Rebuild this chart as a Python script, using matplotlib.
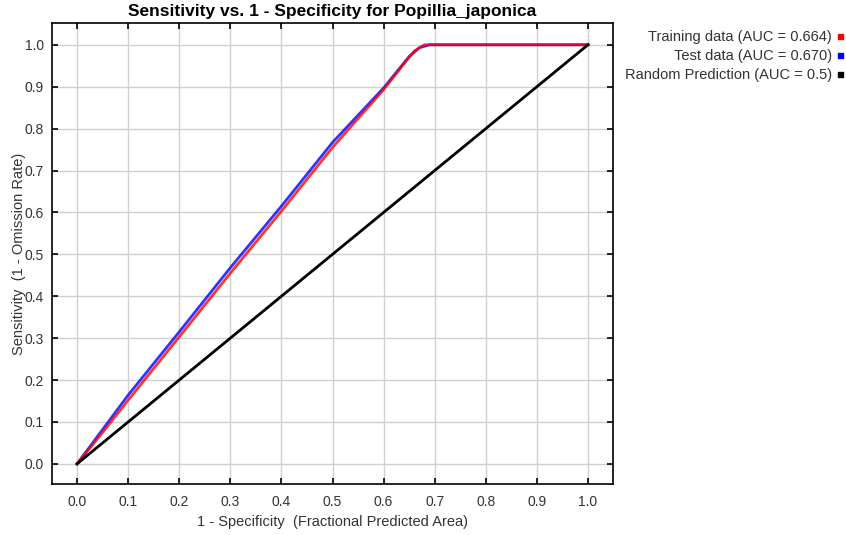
import matplotlib.pyplot as plt
from matplotlib.patches import Rectangle

plt.rcParams['font.family'] = ['Liberation Sans', 'DejaVu Sans']

# ROC points
train_x = [0.0, 0.05, 0.1, 0.2, 0.3, 0.4, 0.5, 0.6, 0.64, 0.66, 0.68, 1.0]
train_y = [0.0, 0.075, 0.152, 0.303, 0.455, 0.603, 0.755, 0.893, 0.955, 0.985, 1.0, 1.0]
test_x = [0.0, 0.05, 0.1, 0.2, 0.3, 0.4, 0.5, 0.6, 0.65, 0.67, 0.69, 1.0]
test_y = [0.0, 0.082, 0.164, 0.315, 0.468, 0.615, 0.767, 0.897, 0.972, 0.993, 1.0, 1.0]
rand_x = [0.0, 1.0]
rand_y = [0.0, 1.0]

legend_labels = ["Training data (AUC = 0.664)", "Test data (AUC = 0.670)",
                 "Random Prediction (AUC = 0.5)"]
legend_colors = ["#ff0000", "#0000ff", "#000000"]
ticks = [0.0, 0.1, 0.2, 0.3, 0.4, 0.5, 0.6, 0.7, 0.8, 0.9, 1.0]

fig = plt.figure(figsize=(8.46, 5.35), dpi=100)
ax = fig.add_axes([52 / 846, 1 - 484 / 535, 561 / 846, 461 / 535])

ax.plot(test_x, test_y, color="#0000ff", lw=2.0, alpha=0.8)
ax.plot(train_x, train_y, color="#ff0000", lw=2.0, alpha=0.8)
ax.plot(rand_x, rand_y, color="#000000", lw=2)

ax.set_xlim(-0.049, 1.049)
ax.set_ylim(-0.048, 1.052)
ax.set_xticks(ticks)
ax.set_yticks(ticks)
ax.set_xticklabels([f"{t:.1f}" for t in ticks])
ax.set_yticklabels([f"{t:.1f}" for t in ticks])
ax.grid(True, color="#d0d0d0", lw=1)
ax.set_axisbelow(True)
ax.tick_params(direction="in", length=4, width=1.2, top=True, right=True,
               labelsize=10, colors="#000000", labelcolor="#333333", pad=6)
ax.tick_params(axis="x", pad=8)
for s in ax.spines.values():
    s.set_linewidth(1.2)

ax.set_title("Sensitivity vs. 1 - Specificity for Popillia_japonica",
             fontsize=12.5, fontweight="bold", pad=5)
ax.set_xlabel("1 - Specificity  (Fractional Predicted Area)", fontsize=10.5,
              color="#333333", labelpad=4)
ax.set_ylabel("Sensitivity  (1 - Omission Rate)", fontsize=10.5,
              color="#333333", labelpad=-1)

rows = [37, 56, 75]
for lab, col, y in zip(legend_labels, legend_colors, rows):
    fig.text(832 / 846, 1 - y / 535, lab, ha="right", va="center",
             fontsize=10.5, color="#333333")
    fig.patches.append(Rectangle((838 / 846, 1 - (y + 2) / 535), 5 / 846, 5 / 535,
                                 transform=fig.transFigure, color=col))

fig.savefig("out.png", dpi=100)
